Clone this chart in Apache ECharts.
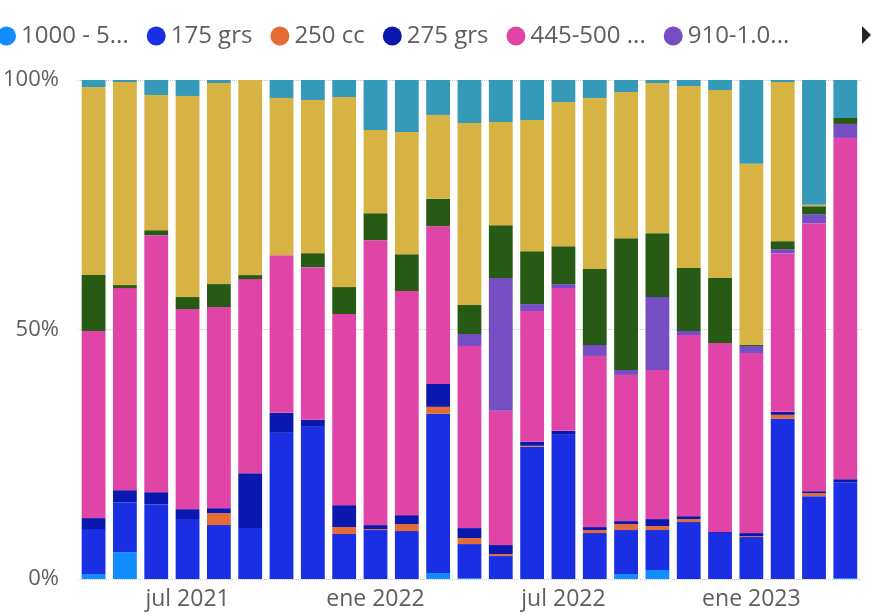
<!DOCTYPE html>
<html>
<head>
<meta charset="utf-8">
<script src="https://cdn.jsdelivr.net/npm/echarts@6/dist/echarts.min.js"></script>
<style>
  html, body { margin: 0; padding: 0; background: #fff; }
  #main { width: 871px; height: 615px; }
</style>
</head>
<body>
<div id="main"></div>
<script>
// meses (abr 2021 - abr 2023)
var months = ['abr 2021','may 2021','jun 2021','jul 2021','ago 2021','sep 2021','oct 2021','nov 2021','dic 2021',
  'ene 2022','feb 2022','mar 2022','abr 2022','may 2022','jun 2022','jul 2022','ago 2022','sep 2022','oct 2022','nov 2022','dic 2022',
  'ene 2023','feb 2023','mar 2023','abr 2023'];

// nombres de las series (los ultimos tres no salen en la leyenda)
var names = ['1000 - 5...', '175 grs', '250 cc', '275 grs', '445-500 ...', '910-1.0...', 'Otros A', 'Otros B', 'Otros C'];

// valores (% de cada mes)
var s1000 = [1.0,5.4,0,0,0,0,0,0,0,0,0,1.2,0.2,0,0,0,0,1.0,1.8,0,0,0,0,0,0.2];
var s175  = [9.0,10.0,15.0,12.0,10.8,10.2,29.3,30.5,9.0,9.8,9.6,31.9,6.8,4.6,26.5,28.9,9.2,8.8,8.0,11.4,9.2,8.4,32.1,16.6,19.2];
var s250  = [0,0,0,0,2.4,0,0,0,1.4,0.2,1.4,1.4,1.2,0.4,0.2,0,0.6,1.2,0.8,0.6,0,0.2,0.8,0.6,0];
var s275  = [2.2,2.4,2.4,2.0,1.0,11.0,4.0,1.4,4.4,0.8,1.8,4.6,2.0,1.8,0.8,0.8,0.6,0.6,1.4,0.6,0.2,0.6,0.6,0.4,0.6];
var s445  = [37.5,40.5,51.5,40.1,40.3,38.9,31.6,30.6,38.3,57.1,44.9,31.6,36.5,26.9,26.2,28.6,34.3,29.3,29.9,36.3,37.9,36.1,31.8,53.7,68.4];
var s910  = [0,0,0,0,0,0,0,0,0,0,0,0,2.4,26.6,1.4,0.8,2.2,1.0,14.6,0.8,0,1.4,0.8,1.8,2.8];
var sOtA  = [11.2,0.6,1.0,2.4,4.6,0.8,0,2.8,5.4,5.4,7.4,5.5,5.8,10.6,10.6,7.6,15.2,26.4,12.8,12.6,13.0,0.2,1.6,1.6,1.2];
var sOtB  = [37.7,40.7,27.1,40.3,40.3,39.1,31.5,30.7,38.1,16.7,24.5,16.8,36.5,20.7,26.3,28.9,34.3,29.3,30.1,36.5,37.7,36.3,31.9,0.3,0];
var sOtC  = [1.4,0.4,3.0,3.2,0.6,0,3.6,4.0,3.4,10.0,10.4,7.0,8.6,8.4,8.0,4.4,3.6,2.4,0.6,1.2,2.0,16.8,0.4,25.0,7.6];

var yTicks = [0, 50, 100];

var colors = ['#118DFF','#1A2FE4','#E66C37','#0B18AE','#E044A7','#744EC2','#275A15','#D6B343','#3599B8'];

var allData = [s1000, s175, s250, s275, s445, s910, sOtA, sOtB, sOtC];

// totales por mes -> 100% apilado
var totals = months.map(function (m, i) {
  var t = 0;
  allData.forEach(function (arr) { t += arr[i]; });
  return t;
});

var font = "'Segoe UI', 'Open Sans', sans-serif";

var series = allData.map(function (arr, k) {
  return {
    name: names[k],
    type: 'bar',
    stack: 'total',
    barCategoryGap: '24%',
    itemStyle: { color: colors[k] },
    data: arr.map(function (v, i) { return v / totals[i] * 100; })
  };
});

var chart = echarts.init(document.getElementById('main'));

chart.setOption({
  animation: false,
  textStyle: { fontFamily: font },
  legend: {
    data: names.slice(0, 6),
    left: -3,
    top: 24,
    padding: 0,
    icon: 'circle',
    itemWidth: 19,
    itemHeight: 19,
    itemGap: 18,
    textStyle: { fontSize: 24, color: '#605E5C', fontFamily: font }
  },
  graphic: [
    {
      type: 'polygon',
      shape: { points: [[862, 26], [871, 35], [862, 44]] },
      style: { fill: '#252423' }
    }
  ],
  grid: { left: 72, right: 10, top: 80, bottom: 36, containLabel: false },
  xAxis: {
    type: 'category',
    data: months,
    axisLine: { show: false },
    axisTick: { show: false },
    axisLabel: {
      interval: function (idx) { return idx % 6 === 3; },
      fontSize: 23,
      color: '#605E5C',
      margin: 9,
      fontFamily: font
    }
  },
  yAxis: {
    type: 'value',
    min: yTicks[0],
    max: yTicks[yTicks.length - 1],
    interval: 50,
    axisLabel: {
      formatter: '{value}%',
      fontSize: 22,
      color: '#605E5C',
      margin: 19,
      fontFamily: font
    },
    splitLine: { show: true, lineStyle: { type: 'dotted', color: '#C8C6C4', width: 1 } }
  },
  series: series
});
</script>
</body>
</html>
